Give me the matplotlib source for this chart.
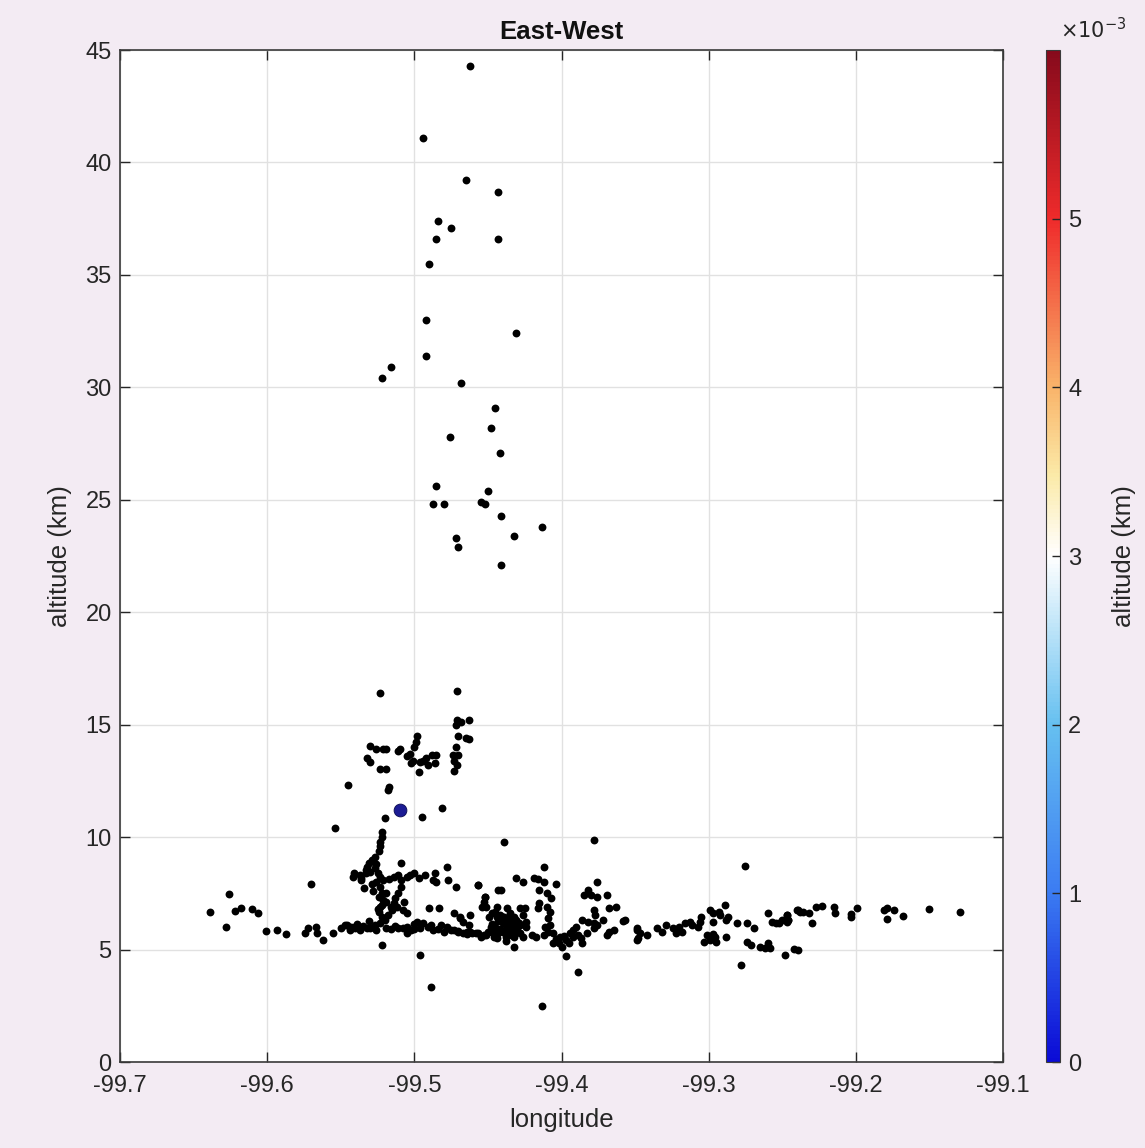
import numpy as np
import matplotlib
matplotlib.use("Agg")
import matplotlib.pyplot as plt
from matplotlib.colors import LinearSegmentedColormap, Normalize
from matplotlib.cm import ScalarMappable

plt.rcParams["font.family"] = ["Liberation Sans", "DejaVu Sans"]

# source locations (longitude, altitude km)
lon_upper = [-99.462, -99.494, -99.465, -99.443, -99.484, -99.475, -99.485, -99.443,
             -99.490, -99.492, -99.431, -99.522, -99.516, -99.492, -99.468, -99.445,
             -99.448, -99.476, -99.442, -99.485, -99.450, -99.487, -99.480, -99.455,
             -99.452, -99.441, -99.413, -99.432, -99.472, -99.470, -99.441]
alt_upper = [44.3, 41.1, 39.2, 38.7, 37.4, 37.1, 36.6, 36.6,
             35.5, 33.0, 32.4, 30.4, 30.9, 31.4, 30.2, 29.1,
             28.2, 27.8, 27.1, 25.6, 25.4, 24.8, 24.8, 24.9,
             24.8, 24.3, 23.8, 23.4, 23.3, 22.9, 22.1]

lon_mid = [-99.523, -99.471, -99.471, -99.468, -99.463, -99.472, -99.465, -99.463,
           -99.470, -99.472, -99.474, -99.470, -99.473, -99.471, -99.473,
           -99.498, -99.499, -99.500, -99.503, -99.505, -99.501, -99.496, -99.492,
           -99.488, -99.485, -99.486, -99.491, -99.497, -99.494, -99.502, -99.510,
           -99.530, -99.526, -99.521, -99.519, -99.532, -99.530, -99.523, -99.519,
           -99.517, -99.518, -99.511, -99.545, -99.481, -99.495, -99.520, -99.554,
           -99.522, -99.522, -99.523, -99.523, -99.524]
alt_mid = [16.4, 16.5, 15.2, 15.1, 15.2, 15.0, 14.4, 14.35,
           14.5, 14.0, 13.65, 13.65, 13.4, 13.2, 12.95,
           14.5, 14.25, 14.0, 13.7, 13.6, 13.4, 13.35, 13.5,
           13.65, 13.65, 13.3, 13.2, 12.9, 13.4, 13.3, 13.9,
           14.05, 13.9, 13.9, 13.9, 13.5, 13.35, 13.05, 13.05,
           12.25, 12.1, 13.85, 12.3, 11.3, 10.9, 10.85, 10.4,
           10.25, 10.0, 9.8, 9.6, 9.4]

lon_west = [-99.527, -99.529, -99.531, -99.532, -99.527, -99.530, -99.533, -99.537,
            -99.541, -99.542, -99.536, -99.525, -99.523, -99.521, -99.517, -99.514,
            -99.511, -99.509, -99.505, -99.503, -99.500, -99.493, -99.486, -99.485,
            -99.478, -99.477, -99.472, -99.457, -99.534, -99.523, -99.522, -99.521,
            -99.523, -99.524, -99.522, -99.519, -99.514, -99.512, -99.508, -99.505,
            -99.523, -99.528, -99.532, -99.537, -99.541, -99.546, -99.519, -99.511,
            -99.505, -99.498, -99.494, -99.489, -99.487, -99.482, -99.478, -99.473,
            -99.467, -99.462, -99.457, -99.453, -99.450, -99.445, -99.473, -99.469,
            -99.483, -99.490, -99.509, -99.509, -99.522, -99.496, -99.562, -99.570,
            -99.626, -99.639, -99.628, -99.622, -99.618, -99.610, -99.606, -99.601,
            -99.593, -99.587, -99.574, -99.572, -99.567, -99.566, -99.555, -99.547,
            -99.543, -99.540, -99.443, -99.452, -99.451, -99.447, -99.444, -99.489,
            -99.413, -99.526, -99.528, -99.519, -99.524, -99.516, -99.513, -99.520,
            -99.527, -99.505, -99.500,
            -99.550, -99.544, -99.535, -99.530, -99.526, -99.516, -99.513, -99.508,
            -99.502, -99.496, -99.491, -99.484, -99.480, -99.475, -99.470, -99.464,
            -99.525, -99.522, -99.518, -99.515, -99.529, -99.533, -99.526, -99.511,
            -99.507, -99.500, -99.497, -99.536, -99.539, -99.531, -99.487, -99.470]
alt_west = [9.13, 8.98, 8.83, 8.68, 8.61, 8.46, 8.39, 8.31,
            8.39, 8.24, 8.09, 8.39, 8.24, 8.09, 8.16, 8.24,
            8.31, 8.86, 8.24, 8.31, 8.39, 8.31, 8.39, 8.02,
            8.65, 8.09, 7.79, 7.87, 7.72, 7.79, 7.50, 7.20,
            6.90, 6.68, 6.46, 7.13, 7.05, 6.90, 6.76, 6.61,
            6.16, 6.02, 5.94, 5.87, 6.02, 6.09, 5.94, 5.94,
            5.72, 6.24, 6.16, 6.09, 5.87, 6.09, 6.02, 5.87,
            5.72, 5.79, 5.72, 5.65, 5.79, 5.87, 6.61, 6.46,
            6.83, 6.83, 7.79, 8.09, 5.20, 4.76, 5.42, 7.90,
            7.45, 6.68, 5.99, 6.73, 6.83, 6.79, 6.61, 5.84,
            5.87, 5.69, 5.72, 5.94, 6.02, 5.75, 5.72, 6.09,
            6.02, 5.94, 7.65, 7.35, 6.90, 6.61, 6.46, 3.33,
            2.49, 8.00, 7.60, 7.50, 7.35, 6.90, 7.30, 6.30,
            6.10, 6.00, 5.90,
            5.95, 5.88, 6.05, 5.98, 5.85, 5.92, 6.05, 5.96,
            5.86, 5.98, 6.02, 5.92, 5.80, 5.88, 5.76, 5.70,
            6.80, 7.00, 6.55, 6.75, 7.90, 8.55, 8.80, 7.50,
            7.10, 6.12, 8.20, 8.18, 6.12, 6.25, 8.10, 5.82]

lon_center = [-99.439, -99.378, -99.412, -99.457, -99.431, -99.426, -99.419, -99.416,
              -99.412, -99.404, -99.441, -99.415, -99.410, -99.407, -99.452, -99.453,
              -99.454, -99.444, -99.445, -99.449, -99.437, -99.435, -99.433, -99.436,
              -99.440, -99.442, -99.428, -99.425, -99.426, -99.416, -99.415, -99.410,
              -99.408, -99.409, -99.408, -99.411, -99.424, -99.424,
              -99.469, -99.467, -99.462, -99.463, -99.464, -99.461, -99.458, -99.455,
              -99.451, -99.447, -99.446, -99.443, -99.440, -99.437, -99.434, -99.432,
              -99.428, -99.426, -99.420, -99.417, -99.412, -99.409, -99.406, -99.432,
              -99.406, -99.401, -99.400, -99.397, -99.394, -99.392, -99.390, -99.389,
              -99.386, -99.397, -99.389,
              -99.386, -99.382, -99.378, -99.378, -99.376, -99.372, -99.368, -99.364,
              -99.369, -99.385, -99.382, -99.380, -99.376, -99.376, -99.369, -99.368,
              -99.363, -99.378, -99.377, -99.357, -99.349, -99.349,
              -99.438, -99.435, -99.440, -99.433, -99.430, -99.445, -99.447, -99.436,
              -99.442, -99.438, -99.431, -99.428,
              -99.439, -99.436, -99.434, -99.441, -99.437, -99.443, -99.432, -99.430,
              -99.444, -99.448, -99.438, -99.435, -99.429, -99.404, -99.402, -99.398,
              -99.395, -99.392, -99.387, -99.383]
alt_center = [9.77, 9.87, 8.66, 7.87, 8.17, 7.99, 8.17, 8.14,
              8.02, 7.90, 7.65, 7.65, 7.53, 7.28, 7.35, 7.13,
              6.91, 6.91, 6.68, 6.46, 6.83, 6.61, 6.39, 6.31,
              6.46, 6.54, 6.83, 6.83, 6.54, 6.83, 7.06, 6.91,
              6.68, 6.39, 6.09, 6.02, 6.24, 6.02,
              6.39, 6.24, 6.54, 6.09, 5.80, 5.72, 5.72, 5.57,
              5.65, 5.80, 5.57, 5.72, 5.80, 6.02, 5.87, 5.57,
              5.72, 5.57, 5.65, 5.57, 5.65, 5.80, 5.72, 5.13,
              5.28, 5.57, 5.13, 5.42, 5.72, 5.87, 6.02, 5.65,
              5.28, 4.73, 3.99,
              6.31, 6.24, 6.17, 5.94, 6.09, 6.31, 5.80, 5.87,
              5.65, 7.43, 7.65, 7.43, 7.35, 8.02, 7.43, 6.83,
              6.91, 6.76, 6.54, 6.31, 5.87, 5.43,
              6.10, 6.00, 6.20, 6.15, 5.95, 6.00, 6.15, 5.75,
              5.90, 5.55, 6.30, 6.10,
              6.45, 6.40, 5.65, 6.35, 5.85, 6.25, 6.45, 5.80,
              5.50, 6.00, 5.40, 6.55, 6.20, 5.45, 5.30, 5.60,
              5.30, 5.55, 5.50, 5.75]

lon_east = [-99.358, -99.349, -99.347, -99.342, -99.348, -99.335, -99.332, -99.329,
            -99.324, -99.322, -99.320, -99.318, -99.316, -99.313, -99.311, -99.307,
            -99.305, -99.306, -99.299, -99.297, -99.293, -99.297, -99.292, -99.289,
            -99.287, -99.288, -99.281, -99.274, -99.269, -99.301, -99.303, -99.299,
            -99.296, -99.288, -99.295, -99.297, -99.275, -99.278, -99.274, -99.271,
            -99.265, -99.262, -99.260, -99.258, -99.260, -99.257, -99.254, -99.250,
            -99.247, -99.246, -99.240, -99.238, -99.248, -99.242, -99.239,
            -99.252, -99.247, -99.246, -99.247, -99.239, -99.236, -99.232, -99.230,
            -99.227, -99.223, -99.215, -99.214, -99.203, -99.203, -99.199, -99.181,
            -99.179, -99.174, -99.179, -99.168, -99.150, -99.129]
alt_east = [6.27, 5.94, 5.72, 5.65, 5.50, 5.94, 5.80, 6.09,
            5.94, 5.72, 6.02, 5.80, 6.17, 6.24, 6.09, 6.02,
            6.46, 6.24, 6.76, 6.61, 6.68, 6.24, 6.54, 6.98,
            6.46, 6.31, 6.17, 6.17, 5.94, 5.65, 5.35, 5.42,
            5.57, 5.57, 5.35, 5.69, 8.73, 4.31, 5.35, 5.20,
            5.13, 5.05, 5.28, 5.05, 6.61, 6.24, 6.17, 6.31,
            6.54, 6.31, 6.76, 6.68, 4.76, 5.01, 4.98,
            6.17, 6.54, 6.31, 6.24, 6.76, 6.68, 6.61, 6.20,
            6.88, 6.94, 6.88, 6.64, 6.58, 6.46, 6.83, 6.76,
            6.83, 6.76, 6.34, 6.51, 6.79, 6.65]

# highlighted source
lon_sel = [-99.510]
alt_sel = [11.2]

lon = lon_upper + lon_mid + lon_west + lon_center + lon_east
alt = alt_upper + alt_mid + alt_west + alt_center + alt_east

cbar_ticks = [0, 1, 2, 3, 4, 5]
cmap = LinearSegmentedColormap.from_list(
    "bwr_jet",
    [(0.0, "#0b0bd6"), (1 / 6, "#3b7cf2"), (2 / 6, "#66c0f0"), (0.5, "#ffffff"),
     (0.58, "#fbeaa8"), (4 / 6, "#f9b46a"), (5 / 6, "#ef2b2b"), (1.0, "#870a1c")])

bg = "#f3ebf3"
ink = "#262626"
fig = plt.figure(figsize=(11.45, 11.48), dpi=100, facecolor=bg)
ax = fig.add_axes([0.1048, 0.0749, 0.7712, 0.8815])
ax.scatter(lon, alt, s=32, c="black", linewidths=0, zorder=3)
ax.scatter(lon_sel, alt_sel, s=85, c="#1c1c94", edgecolors="#0a0a50",
           linewidths=0.6, zorder=4)

ax.set_xlim(-99.7, -99.1)
ax.set_ylim(0, 45)
ax.set_xticks(np.arange(-99.7, -99.05, 0.1))
ax.set_xticklabels(["-99.7", "-99.6", "-99.5", "-99.4", "-99.3", "-99.2", "-99.1"])
ax.set_yticks(range(0, 46, 5))
ax.grid(True, color="#e1e1e1", linewidth=1.0, zorder=0)
ax.set_axisbelow(True)
ax.tick_params(direction="in", length=7, width=1, colors=ink,
               labelsize=17, top=True, right=True)
ax.tick_params(axis="x", pad=9)
ax.tick_params(axis="y", pad=6)
for sp in ax.spines.values():
    sp.set_color("#3a3a3a")
    sp.set_linewidth(1.2)
ax.set_xlabel("longitude", fontsize=18.5, color=ink, labelpad=8)
ax.set_ylabel("altitude (km)", fontsize=18.5, color=ink, labelpad=10)
ax.set_title("East-West", fontsize=18.5, fontweight="bold", color="#111111", pad=8)

cax = fig.add_axes([0.9135, 0.0749, 0.0123, 0.8815])
sm = ScalarMappable(norm=Normalize(0, 6e-3), cmap=cmap)
cb = fig.colorbar(sm, cax=cax)
cb.set_ticks([t * 1e-3 for t in cbar_ticks])
cb.set_ticklabels([str(t) for t in cbar_ticks])
cb.ax.tick_params(direction="in", length=6, width=1, colors=ink,
                  labelsize=17, pad=6)
cb.outline.set_edgecolor("#3a3a3a")
cb.set_label("altitude (km)", fontsize=18.5, color=ink, labelpad=22)
cax.text(1.0, 1.008, r"$\times10^{-3}$", transform=cax.transAxes, fontsize=15,
         color=ink, ha="left", va="bottom")

fig.savefig("out.png", dpi=100, facecolor=bg)
